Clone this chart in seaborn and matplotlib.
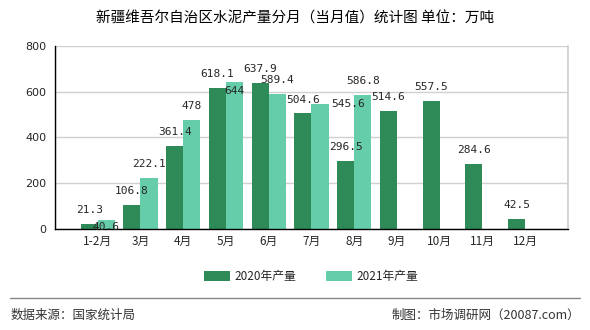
import matplotlib
matplotlib.use("Agg")
import matplotlib.pyplot as plt
import seaborn as sns
import pandas as pd
import numpy as np

months = ["1-2月", "3月", "4月", "5月", "6月", "7月", "8月", "9月", "10月", "11月", "12月"]
v2020 = [21.3, 106.8, 361.4, 618.1, 637.9, 504.6, 296.5, 514.6, 557.5, 284.6, 42.5]
v2021 = [40.6, 222.1, 478, 644, 589.4, 545.6, 586.8, None, None, None, None]
series = ["2020年产量", "2021年产量"]
colors = ["#2e8b57", "#66cdaa"]
yticks = [0, 200, 400, 600, 800]

sns.set_theme(style="white")
plt.rcParams['font.family'] = ['Noto Sans CJK SC', 'DejaVu Sans']

df = pd.DataFrame({
    "month": months * 2,
    "value": v2020 + v2021,
    "series": [series[0]] * len(months) + [series[1]] * len(months),
})

fig = plt.figure(figsize=(5.9, 3.3), dpi=100)
ax = fig.add_axes([0.0932, 0.306, 0.8695, 0.555])

sns.barplot(data=df, x="month", y="value", hue="series", order=months,
            hue_order=series, palette=colors, width=0.8, saturation=1,
            linewidth=0, edgecolor="none", gap=0, ax=ax, legend=True)

ax.set_xlim(-1, len(months))
ax.set_ylim(0, 800)
ax.set_yticks(yticks)
ax.set_yticklabels([str(t) for t in yticks], fontsize=8, family="DejaVu Sans")
ax.set_xticks(range(len(months)))
ax.set_xticklabels(months, fontsize=8.5)
ax.set_xticks(np.arange(-1, len(months) + 1), minor=True)
ax.tick_params(axis="x", which="major", length=0, pad=4)
ax.tick_params(axis="x", which="minor", length=4, color="black", direction="out")
ax.tick_params(axis="y", length=4, color="black", direction="out", pad=2)
ax.set_xlabel("")
ax.set_ylabel("")

ax.grid(True, which="minor", axis="x", color="#d0d0d0", lw=1)
ax.grid(True, which="major", axis="y", color="#d0d0d0", lw=1)
ax.set_axisbelow(True)
ax.spines["top"].set_visible(False)
ax.spines["right"].set_color("#d0d0d0")
ax.spines["left"].set_color("black")
ax.spines["bottom"].set_color("black")
ax.spines["left"].set_linewidth(1)
ax.spines["bottom"].set_linewidth(1)

# data labels
off2021 = {0: (0, -5), 3: (0, -7), 5: (20, 0)}
for i, v in enumerate(v2020):
    ax.annotate(f"{v:g}", (i - 0.2, v), xytext=(0, 10), textcoords="offset points",
                ha="center", va="center", fontsize=8, family="DejaVu Sans Mono")
for i, v in enumerate(v2021):
    if v is None:
        continue
    dx, dy = off2021.get(i, (0, 10))
    ax.annotate(f"{v:g}", (i + 0.2, v), xytext=(dx, dy), textcoords="offset points",
                ha="center", va="center", fontsize=8, family="DejaVu Sans Mono")

ax.legend(loc="center", bbox_to_anchor=(0.5, -0.26),
          ncol=2, frameon=False, fontsize=8.5, handlelength=2.2, handleheight=0.9,
          columnspacing=2.5, handletextpad=0.4)

fig.text(0.5, 0.945, "新疆维吾尔自治区水泥产量分月（当月值）统计图 单位：万吨",
         ha="center", va="center", fontsize=10.5, color="black")
fig.add_artist(plt.Line2D([0.017, 0.983], [0.097, 0.097], color="#888888", lw=1,
                          transform=fig.transFigure))
fig.text(0.017, 0.045, "数据来源：国家统计局", ha="left", va="center", fontsize=9, color="#333333")
fig.text(0.983, 0.045, "制图：市场调研网（20087.com）", ha="right", va="center", fontsize=9, color="#333333")

fig.savefig("out.png", dpi=100)
